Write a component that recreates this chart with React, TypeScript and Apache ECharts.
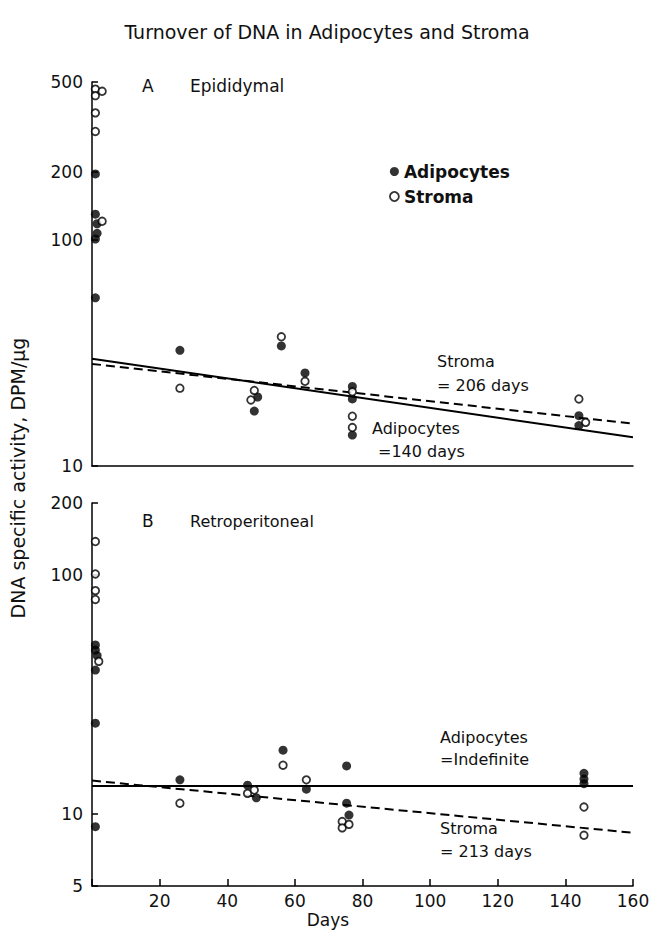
import React, { useEffect, useRef } from "react";
import * as echarts from "echarts";

// ---- tick labels ----
const xTickValues = [20, 40, 60, 80, 100, 120, 140, 160];
const yTicksEpi = [10, 100, 200, 500];
const yTicksRetro = [5, 10, 100, 200];

// ---- Panel A: Epididymal ([day, DPM/ug]) ----
const epiAdipocytes: [number, number][] = [
  [1, 196], [1, 130], [1.5, 118], [1.5, 107], [1, 101], [1, 55.5],
  [26, 32.5], [48, 17.5], [49, 20.2], [56, 34], [63, 25.8],
  [77, 22.5], [77, 19.8], [77, 13.7], [144, 16.7], [144, 15.1],
];
const epiStroma: [number, number][] = [
  [1, 465], [1, 435], [3, 455], [1, 365], [1, 302], [3, 121],
  [26, 22.1], [47, 19.6], [48, 21.6], [56, 37.3], [63, 23.7],
  [77, 21.3], [77, 16.6], [77, 14.8], [144, 19.8], [146, 15.6],
];
const epiAdipocyteFit: [number, number][] = [[0, 29.8], [160, 13.4]];
const epiStromaFit: [number, number][] = [[0, 28.3], [160, 15.4]];

// ---- Panel B: Retroperitoneal ----
const retroAdipocytes: [number, number][] = [
  [1, 51], [1, 48.5], [1.5, 46], [1, 40], [1, 24], [1, 8.85],
  [26, 13.9], [46, 13.2], [48.6, 11.7], [56.5, 18.5], [63.4, 12.7],
  [75.3, 15.9], [75.3, 11.1], [76, 9.9], [145.5, 14.8], [145.5, 14.0], [145.5, 13.4],
];
const retroStroma: [number, number][] = [
  [1, 138], [1, 101], [1, 86], [1, 79], [2, 43.5],
  [26, 11.1], [46, 12.2], [48, 12.6], [56.5, 16.0], [63.4, 13.9],
  [74, 9.3], [74, 8.75], [76, 9.05], [145.5, 10.7], [145.5, 8.15],
];
const retroAdipocyteFit: [number, number][] = [[0, 13.1], [160, 13.1]];
const retroStromaFit: [number, number][] = [[0, 13.8], [160, 8.35]];

const FONT = '"DejaVu Sans", "Liberation Sans", sans-serif';
const INK = "#111";

export default function App() {
  const ref = useRef<HTMLDivElement>(null);

  useEffect(() => {
    if (!ref.current) return;
    const chart = echarts.init(ref.current, undefined, { renderer: "svg" });

    const filled = (name: string, data: [number, number][], gi: number) => ({
      type: "scatter",
      name,
      xAxisIndex: gi,
      yAxisIndex: gi,
      data,
      symbol: "circle",
      symbolSize: 9,
      itemStyle: { color: "#000" },
      z: 5,
      silent: true,
    });
    const open = (name: string, data: [number, number][], gi: number) => ({
      type: "scatter",
      name,
      xAxisIndex: gi,
      yAxisIndex: gi,
      data,
      symbol: "circle",
      symbolSize: 7.5,
      itemStyle: { color: "#fff", borderColor: "#000", borderWidth: 1.8 },
      z: 6,
      silent: true,
    });
    const fit = (name: string, data: [number, number][], gi: number, dashed: boolean) => ({
      type: "line",
      name,
      xAxisIndex: gi,
      yAxisIndex: gi,
      data,
      symbol: "none",
      lineStyle: { color: "#000", width: 2, type: dashed ? [9, 5] : "solid" },
      z: 3,
      silent: true,
    });

    const yAxisCommon = (min: number, max: number, ticks: number[], gi: number) => ({
      type: "log",
      logBase: 10,
      gridIndex: gi,
      min,
      max,
      axisLine: { show: true, lineStyle: { color: "#000", width: 1.5 } },
      axisTick: { show: true, inside: true, length: 6, customValues: ticks, lineStyle: { color: "#000", width: 1.5 } },
      axisLabel: { customValues: ticks, fontSize: 17, color: INK, fontFamily: FONT, margin: 9 },
      splitLine: { show: false },
      minorTick: { show: false },
    });

    const text = (t: string, x: number, y: number, extra: any = {}, rotation = 0) => ({
      type: "text",
      x,
      y,
      rotation,
      silent: true,
      style: {
        text: t,
        fontSize: 16,
        fontFamily: FONT,
        fill: INK,
        textAlign: "left",
        textVerticalAlign: "middle",
        ...extra,
      },
    });

    chart.setOption({
      animation: false,
      backgroundColor: "#fff",
      title: {
        text: "Turnover of DNA in Adipocytes and Stroma",
        left: "center",
        top: 17,
        textStyle: { fontSize: 19, fontWeight: "normal", color: INK, fontFamily: FONT },
      },
      legend: {
        orient: "vertical",
        left: 384,
        top: 158,
        itemWidth: 9,
        itemHeight: 9,
        itemGap: 8,
        textStyle: { fontSize: 17, fontWeight: "bold", color: INK, fontFamily: FONT },
        data: [
          { name: "Adipocytes", icon: "circle", itemStyle: { color: "#000" } },
          { name: "Stroma", icon: "circle", itemStyle: { color: "#fff", borderColor: "#000", borderWidth: 1.8 } },
        ],
        selectedMode: false,
      },
      grid: [
        { left: 92, top: 82, width: 541, height: 384 },
        { left: 92, top: 503, width: 541, height: 383 },
      ],
      xAxis: [
        {
          type: "value",
          gridIndex: 0,
          min: 0,
          max: 160,
          axisLine: { show: true, lineStyle: { color: "#000", width: 1.5 } },
          axisTick: { show: false },
          axisLabel: { show: false },
          splitLine: { show: false },
        },
        {
          type: "value",
          gridIndex: 1,
          min: 0,
          max: 160,
          interval: 20,
          axisLine: { show: true, lineStyle: { color: "#000", width: 1.5 } },
          axisTick: { show: true, inside: true, length: 7, lineStyle: { color: "#000", width: 1.5 } },
          axisLabel: {
            fontSize: 17,
            color: INK,
            fontFamily: FONT,
            margin: 6,
            customValues: xTickValues,
          },
          splitLine: { show: false },
        },
      ],
      yAxis: [yAxisCommon(10, 500, yTicksEpi, 0), yAxisCommon(5, 200, yTicksRetro, 1)],
      graphic: [
        text("DNA specific activity, DPM/\u03bcg", 18, 478, { textAlign: "center", fontSize: 19 }, Math.PI / 2),
        text("Days", 328, 920, { textAlign: "center", fontSize: 17 }),
        text("A", 142, 86, { fontSize: 17 }),
        text("Epididymal", 190, 86, { fontSize: 17 }),
        text("B", 142, 521, { fontSize: 17 }),
        text("Retroperitoneal", 190, 521),
        text("Stroma", 437, 361),
        text("= 206 days", 437, 385),
        text("Adipocytes", 372, 428),
        text("=140 days", 378, 451),
        text("Adipocytes", 440, 737),
        text("=Indefinite", 440, 759),
        text("Stroma", 440, 828),
        text("= 213 days", 440, 851),
      ],
      series: [
        fit("epiAdipFit", epiAdipocyteFit, 0, false),
        fit("epiStromaFit", epiStromaFit, 0, true),
        filled("Adipocytes", epiAdipocytes, 0),
        open("Stroma", epiStroma, 0),
        fit("retroAdipFit", retroAdipocyteFit, 1, false),
        fit("retroStromaFit", retroStromaFit, 1, true),
        filled("Adipocytes B", retroAdipocytes, 1),
        open("Stroma B", retroStroma, 1),
      ],
    });

    return () => chart.dispose();
  }, []);

  return (
    <div
      ref={ref}
      style={{ position: "absolute", left: 0, top: 0, width: 654, height: 931, background: "#fff" }}
    />
  );
}
